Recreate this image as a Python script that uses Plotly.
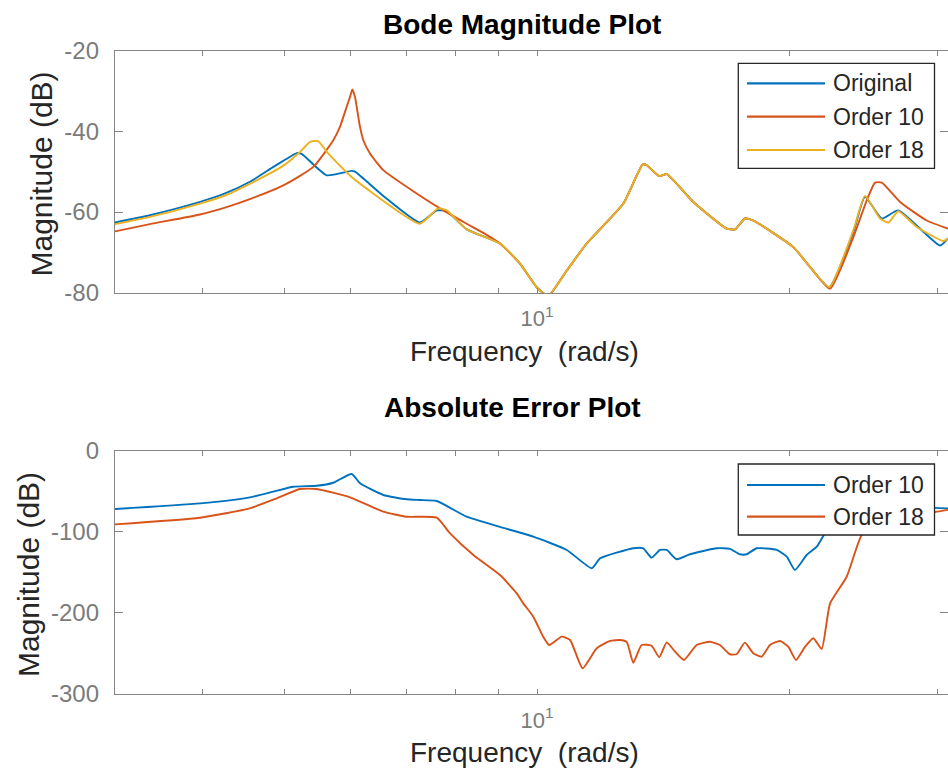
import math
import plotly.graph_objects as go

W, H = 948, 770

# ---- Bode magnitude (rad/s, dB) ----
orig_w = [3.145, 3.461, 3.971, 4.252, 4.552, 4.855, 5.035, 5.175, 5.246, 5.618, 6.017, 6.072,
          6.562, 7.255, 7.596, 7.808, 8.248, 9.035, 9.545, 9.99, 10.31, 10.85,
          11.46, 12.67, 13.36, 13.51, 13.98, 14.27, 15.35, 16.82, 17.21, 17.68,
          18.09, 20.19, 21.13, 22.28, 23.80, 24.57, 25.73, 26.92, 30.18, 30.85]
orig_db = [-62.6, -60.8, -57.5, -55.4, -52.5, -48.8, -46.8, -45.4, -45.6, -50.9, -49.8, -50.0,
           -56.0, -62.6, -59.6, -59.8, -64.3, -67.8, -72.8, -78.6, -80.8, -74.5,
           -67.8, -57.9, -48.2, -48.4, -51.1, -50.6, -57.5, -64.1, -64.3, -61.6,
           -62.1, -68.7, -73.6, -78.6, -65.0, -56.2, -61.6, -59.6, -68.3, -66.5]

o10_w = [3.145, 3.461, 3.971, 4.252, 4.552, 4.989, 5.417, 5.721, 5.826, 5.935, 5.989, 6.027,
         6.072, 6.100, 6.156, 6.212, 6.327, 6.562, 7.190, 7.735, 8.248, 8.70,
         9.035, 9.545, 9.99, 10.31, 10.85, 11.46, 12.67, 13.36, 13.51, 13.98,
         14.27, 15.35, 16.82, 17.21, 17.68, 18.09, 20.19, 21.13, 22.33, 23.80,
         24.69, 25.26, 25.73, 27.05, 29.10, 30.85]
o10_db = [-64.8, -63.0, -60.6, -58.9, -56.8, -53.4, -48.8, -42.2, -38.9, -33.9, -31.5, -29.6,
          -31.5, -33.9, -38.9, -42.2, -45.5, -49.6, -55.4, -59.6, -62.9, -65.6,
          -67.8, -72.8, -78.6, -80.8, -74.5, -67.8, -57.9, -48.2, -48.4, -51.1,
          -50.6, -57.5, -64.1, -64.3, -61.6, -62.1, -68.7, -73.6, -79.0, -66.2,
          -57.1, -52.7, -52.7, -57.5, -62.1, -64.1]

o18_w = [3.145, 3.461, 3.971, 4.252, 4.552, 4.989, 5.222, 5.368, 5.487, 5.618, 5.721, 6.017,
         6.270, 7.255, 7.624, 7.808, 8.248, 9.035, 9.545, 9.99, 10.31, 10.85,
         11.46, 12.67, 13.36, 13.51, 13.98, 14.27, 15.35, 16.82, 17.21, 17.68,
         18.09, 20.19, 21.13, 22.28, 23.80, 24.57, 25.61, 26.20, 26.92, 28.32,
         30.46, 30.85]
o18_db = [-63.0, -61.2, -57.9, -55.9, -53.0, -48.5, -45.1, -42.6, -42.4, -45.0, -46.8, -51.3,
          -54.2, -62.9, -59.1, -59.6, -64.3, -67.8, -72.8, -78.6, -80.8, -74.5,
          -67.8, -57.9, -48.2, -48.4, -51.1, -50.6, -57.5, -64.1, -64.3, -61.6,
          -62.1, -68.7, -73.6, -78.6, -64.5, -56.0, -61.6, -62.6, -59.8, -63.7,
          -67.2, -66.5]

# ---- absolute error of the reduced models (rad/s, dB) ----
e10_w = [3.145, 3.971, 4.552, 4.855, 5.127, 5.467, 5.721, 6.017, 6.156, 6.562,
         6.995, 7.255, 7.596, 8.248, 9.035, 9.899, 10.85, 11.62, 11.89, 13.02,
         13.38, 13.69, 14.01, 14.27, 14.66, 15.21, 16.37, 16.97, 17.44, 17.77,
         18.26, 19.29, 19.83, 20.28, 20.94, 21.53, 22.22, 23.58, 24.91, 27.05,
         29.77, 30.85]
e10_db = [-71.9, -64.9, -57.5, -50.5, -44.4, -43.2, -39.5, -28.7, -40.2, -54.6,
          -59.9, -60.8, -62.0, -81.4, -94.0, -106.0, -122.4, -145.0, -132.7, -120.3,
          -120.3, -131.9, -122.4, -122.4, -133.9, -127.7, -120.3, -121.0, -127.7, -127.7,
          -120.3, -122.4, -130.7, -147.1, -128.6, -118.4, -95.7, -80.0, -74.0, -71.0,
          -70.5, -71.1]

e18_w = [3.145, 3.971, 4.552, 4.900, 5.222, 5.467, 5.989, 6.562, 6.995, 7.596,
         7.879, 8.400, 9.035, 9.459, 9.631, 9.899, 10.17, 10.34, 10.70, 10.95,
         11.33, 11.78, 12.22, 12.55, 12.79, 13.02, 13.32, 13.69, 13.98, 14.27,
         14.60, 14.96, 15.49, 16.07, 16.51, 16.97, 17.28, 17.68, 18.09, 18.51,
         18.94, 19.47, 19.91, 20.34, 20.85, 21.33, 21.82, 22.33, 23.37, 24.35,
         25.61, 27.80, 29.77, 30.85]
e18_db = [-90.8, -82.6, -71.1, -58.7, -47.2, -47.2, -57.5, -75.2, -81.4, -82.6,
          -101.9, -128.6, -153.3, -175.9, -188.2, -204.7, -229.3, -239.6, -229.3, -233.4,
          -268.3, -243.6, -234.6, -233.4, -236.0, -261.4, -239.6, -240.5, -254.7, -236.3,
          -247.8, -258.0, -239.6, -235.5, -239.6, -251.0, -251.0, -236.7, -249.8, -254.0,
          -239.6, -234.6, -241.7, -258.0, -241.7, -231.3, -244.5, -188.2, -155.4, -104.0,
          -85.0, -78.0, -75.6, -73.0]

top_names = ["Original", "Order 10", "Order 18"]
err_names = ["Order 10", "Order 18"]

top_ticks = [-80, -60, -40, -20]
top_ticktext = ["-80", "-60", "-40", "-20"]
err_ticks = [-300, -200, -100, 0]
err_ticktext = ["-300", "-200", "-100", "0"]
x_major = [10]
x_major_text = ["10<sup>1</sup>"]
x_minor = [4, 5, 6, 7, 8, 9, 20, 30]

BLUE, RED, YELLOW = "#0072BD", "#D95319", "#EDB120"
FONT = "Liberation Sans, Arial, Helvetica, sans-serif"
AXIS_GRAY = "#858585"
TICK_GRAY = "#7b7b7b"
LABEL = "#262626"

x_range = [math.log10(3.145), math.log10(30.85)]


def fx(p):
    return p / W


def fy(p):
    return 1 - p / H


fig = go.Figure()
lw = 1.9
line_kw = dict(shape="spline", smoothing=0.5, width=lw)
fig.add_trace(go.Scatter(x=orig_w, y=orig_db, mode="lines", name=top_names[0],
                         line=dict(color=BLUE, **line_kw), xaxis="x", yaxis="y"))
fig.add_trace(go.Scatter(x=o10_w, y=o10_db, mode="lines", name=top_names[1],
                         line=dict(color=RED, **line_kw), xaxis="x", yaxis="y"))
fig.add_trace(go.Scatter(x=o18_w, y=o18_db, mode="lines", name=top_names[2],
                         line=dict(color=YELLOW, **line_kw), xaxis="x", yaxis="y"))
fig.add_trace(go.Scatter(x=e10_w, y=e10_db, mode="lines", name=err_names[0],
                         line=dict(color=BLUE, **line_kw), xaxis="x2", yaxis="y2"))
fig.add_trace(go.Scatter(x=e18_w, y=e18_db, mode="lines", name=err_names[1],
                         line=dict(color=RED, **line_kw), xaxis="x2", yaxis="y2"))

xcommon = dict(type="log", range=x_range, tickmode="array", tickvals=x_major,
               ticktext=x_major_text, ticks="inside", ticklen=5, tickwidth=1,
               tickcolor=AXIS_GRAY, showline=True, linecolor=AXIS_GRAY, linewidth=1.3,
               mirror="ticks", showgrid=False, zeroline=False, automargin=False,
               minor=dict(tickmode="array", tickvals=x_minor, ticks="inside",
                          ticklen=5, tickwidth=1, tickcolor=AXIS_GRAY, showgrid=False),
               tickfont=dict(family=FONT, size=22, color=TICK_GRAY),
               ticklabelstandoff=6, domain=[fx(115), 1.0])
ycommon = dict(tickmode="array", ticks="inside", ticklen=8, tickwidth=1,
               tickcolor=AXIS_GRAY, showline=True, linecolor=AXIS_GRAY, linewidth=1.3,
               mirror="ticks", showgrid=False, zeroline=False, automargin=False,
               tickfont=dict(family=FONT, size=24, color=TICK_GRAY),
               ticklabelstandoff=10)

fig.update_layout(
    width=W, height=H, margin=dict(l=0, r=0, t=0, b=0, autoexpand=False),
    paper_bgcolor="white", plot_bgcolor="white", showlegend=False,
    xaxis=dict(anchor="y", **xcommon),
    yaxis=dict(anchor="x", domain=[fy(292.7), fy(50.7)], range=[-80, -20],
               tickvals=top_ticks, ticktext=top_ticktext, **ycommon),
    xaxis2=dict(anchor="y2", **xcommon),
    yaxis2=dict(anchor="x2", domain=[fy(694), fy(450.7)], range=[-300, 0],
                tickvals=err_ticks, ticktext=err_ticktext, **ycommon),
)

ann = []
# titles
ann.append(dict(text="<b>Bode Magnitude Plot</b>", x=fx(521.7), y=fy(25),
                font=dict(family=FONT, size=28, color="black")))
ann.append(dict(text="<b>Absolute Error Plot</b>", x=fx(512.5), y=fy(408),
                font=dict(family=FONT, size=28, color="black")))
# axis labels
for yy in (351, 752):
    ann.append(dict(text="Frequency\u00a0 (rad/s)", x=fx(524.5), y=fy(yy),
                    font=dict(family=FONT, size=28, color=LABEL)))
ann.append(dict(text="Magnitude (dB)", x=fx(41), y=fy(174.5), textangle=-90,
                font=dict(family=FONT, size=30, color=LABEL)))
ann.append(dict(text="Magnitude (dB)", x=fx(28), y=fy(575), textangle=-90,
                font=dict(family=FONT, size=30, color=LABEL)))

shapes = []


def add_legend(x0, x1, y0, y1, rows, names, colors):
    shapes.append(dict(type="rect", xref="paper", yref="paper",
                       x0=fx(x0), x1=fx(x1), y0=fy(y1), y1=fy(y0),
                       line=dict(color=LABEL, width=1.3), fillcolor="white",
                       layer="above"))
    for ry, nm, c in zip(rows, names, colors):
        shapes.append(dict(type="line", xref="paper", yref="paper",
                           x0=fx(747), x1=fx(825), y0=fy(ry), y1=fy(ry),
                           line=dict(color=c, width=2.2), layer="above"))
        ann.append(dict(text=nm, x=fx(831), y=fy(ry), xanchor="left",
                        font=dict(family=FONT, size=23, color=LABEL)))


add_legend(738.3, 934.5, 63.3, 168.3, [83.3, 116.7, 150.0], top_names,
           [BLUE, RED, YELLOW])
add_legend(738.3, 934.5, 464.0, 535.0, [485.0, 516.7], err_names, [BLUE, RED])

for a in ann:
    a.update(xref="paper", yref="paper", showarrow=False)
    a.setdefault("xanchor", "center")
    a.setdefault("yanchor", "middle")

fig.update_layout(annotations=ann, shapes=shapes)
fig.write_html("out.html")
